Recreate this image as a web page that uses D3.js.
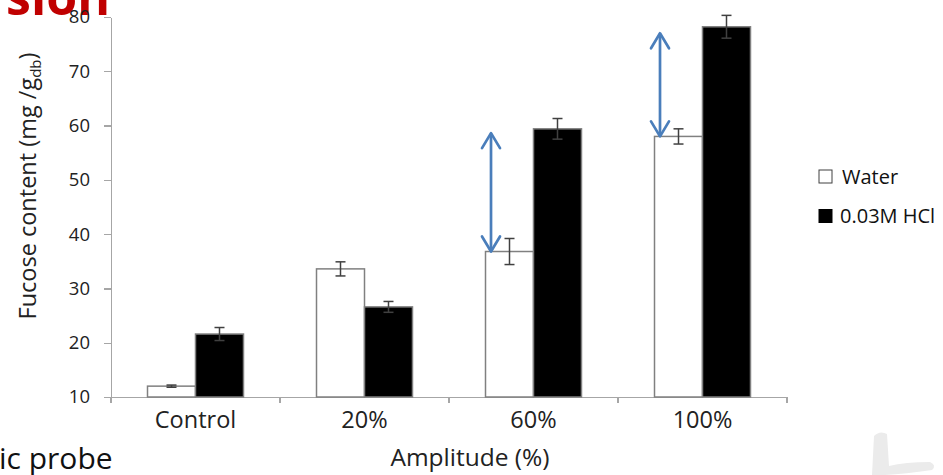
<!DOCTYPE html>
<html>
<head>
<meta charset="utf-8">
<script src="https://cdn.jsdelivr.net/npm/d3@7"></script>
<style>
  body { margin: 0; background: #fff; }
  svg { display: block; font-family: "Open Sans", sans-serif; }
  .axis path, .axis line { stroke: #a6a6a6; stroke-width: 1.3; shape-rendering: crispEdges; }
  .axis text { fill: #222; font-family: "Open Sans", sans-serif; }
</style>
</head>
<body>
<svg class="svg1" width="943" height="475"></svg>
<script>
var categories = ["Control", "20%", "60%", "100%"];
var seriesNames = ["Water", "0.03M HCl"];
var water    = [12.0, 33.6, 36.8, 58.0];
var waterErr = [0.2, 1.3, 2.4, 1.4];
var hcl      = [21.6, 26.6, 59.4, 78.2];
var hclErr   = [1.2, 1.0, 1.9, 2.1];
var yTicks   = [10, 20, 30, 40, 50, 60, 70, 80];
// blue double arrows: [category, from, to]
var arrows = [["60%", 36.8, 58.6], ["100%", 58.0, 77.0]];

var svg = d3.select(".svg1"),
    margin = {top: 17, right: 156, bottom: 78, left: 111},
    width = svg.attr("width") - margin.left - margin.right,
    height = svg.attr("height") - margin.top - margin.bottom;

var x0 = d3.scaleBand().domain(categories).range([0, width]).padding(0),
    x1 = d3.scaleBand().domain(seriesNames)
      .range([x0.bandwidth() * 0.216, x0.bandwidth() * 0.784]).padding(0),
    y = d3.scaleLinear().domain([10, 80]).range([height, 0]);

var data = categories.map(function(c, i) {
  return [
    {cat: c, id: "Water", value: water[i], err: waterErr[i]},
    {cat: c, id: "0.03M HCl", value: hcl[i], err: hclErr[i]}
  ];
});

// slide leftovers around the chart
svg.append("text")
    .attr("x", 110).attr("y", 15)
    .attr("text-anchor", "end")
    .style("font", "bold 50px 'Open Sans', sans-serif")
    .attr("fill", "#c00000")
    .text("sion");

svg.append("text")
    .attr("x", -1).attr("y", 469)
    .style("font-size", "30px")
    .attr("fill", "#111")
    .text("ic probe");

svg.append("path")
    .attr("d", "M872,475 L874,436 Q880,430 887,434 L889,466 Q905,462 930,462 Q937,465 932,470 Q905,474 885,475 Z")
    .attr("fill", "#ebebeb");

var g = svg.append("g").attr("transform", "translate(" + margin.left + "," + margin.top + ")");

g.append("g")
    .attr("class", "axis axis--y")
    .call(d3.axisLeft(y).tickValues(yTicks).tickSize(7).tickPadding(14).tickSizeOuter(0))
    .attr("font-family", null)
    .selectAll("text").style("font-size", "18.5px");

var xAxis = g.append("g")
    .attr("class", "axis axis--x")
    .attr("transform", "translate(0," + height + ")");

xAxis.call(d3.axisBottom(x0).tickSize(0).tickPadding(14))
    .attr("font-family", null)
    .selectAll("text").style("font-size", "23.5px");

xAxis.selectAll(".bound")
    .data(d3.range(categories.length + 1))
    .enter().append("line")
      .attr("class", "bound")
      .attr("x1", function(i) { return i * x0.step(); })
      .attr("x2", function(i) { return i * x0.step(); })
      .attr("y2", 6);

var group = g.selectAll(".grp")
  .data(data)
  .enter().append("g")
    .attr("class", "grp")
    .attr("transform", function(d) { return "translate(" + x0(d[0].cat) + ",0)"; });

group.selectAll("rect")
  .data(function(d) { return d; })
  .enter().append("rect")
    .attr("x", function(d) { return x1(d.id); })
    .attr("y", function(d) { return y(d.value); })
    .attr("width", x1.bandwidth())
    .attr("height", function(d) { return height - y(d.value); })
    .attr("fill", function(d) { return d.id == "Water" ? "#fff" : "#000"; })
    .attr("stroke", "#808080")
    .attr("stroke-width", 1.5);

var eb = group.selectAll(".err")
  .data(function(d) { return d; })
  .enter().append("g")
    .attr("class", "err")
    .attr("stroke", "#404040")
    .attr("stroke-width", 1.5);

eb.append("line")
    .attr("x1", function(d) { return x1(d.id) + x1.bandwidth() / 2; })
    .attr("x2", function(d) { return x1(d.id) + x1.bandwidth() / 2; })
    .attr("y1", function(d) { return y(d.value + d.err); })
    .attr("y2", function(d) { return y(d.value - d.err); });

eb.selectAll(".cap")
  .data(function(d) { return [d.value + d.err, d.value - d.err].map(function(v) { return {id: d.id, v: v}; }); })
  .enter().append("line")
    .attr("class", "cap")
    .attr("x1", function(d) { return x1(d.id) + x1.bandwidth() / 2 - 5; })
    .attr("x2", function(d) { return x1(d.id) + x1.bandwidth() / 2 + 5; })
    .attr("y1", function(d) { return y(d.v); })
    .attr("y2", function(d) { return y(d.v); });

// double headed arrows
var arr = g.selectAll(".arrow")
  .data(arrows)
  .enter().append("g")
    .attr("class", "arrow")
    .attr("fill", "none")
    .attr("stroke", "#4a7ebb")
    .attr("stroke-width", 2.7)
    .attr("stroke-linecap", "round")
    .attr("stroke-linejoin", "round");

function ax(d) { return x0(d[0]) + x1("Water") + 5.5; }

arr.append("line")
    .attr("x1", ax).attr("x2", ax)
    .attr("y1", function(d) { return y(d[2]) + 1; })
    .attr("y2", function(d) { return y(d[1]) - 1; });

arr.append("path")
    .attr("d", function(d) {
      var xx = ax(d), t = y(d[2]), b = y(d[1]);
      return "M" + (xx - 9) + "," + (t + 15) + "L" + xx + "," + t + "L" + (xx + 9) + "," + (t + 15) +
             "M" + (xx - 9) + "," + (b - 15) + "L" + xx + "," + b + "L" + (xx + 9) + "," + (b - 15);
    });

// y title with subscript
svg.append("text")
    .attr("transform", "translate(36,186) rotate(-90)")
    .attr("text-anchor", "middle")
    .style("font-size", "23.5px")
    .attr("fill", "#222")
    .call(function(t) {
      t.append("tspan").text("Fucose content (mg /g");
      t.append("tspan").attr("dy", 5).style("font-size", "15px").text("db");
      t.append("tspan").attr("dy", -5).text(")");
    });

svg.append("text")
    .attr("x", margin.left + width / 2 + 21)
    .attr("y", 466)
    .attr("text-anchor", "middle")
    .style("font-size", "24.5px")
    .attr("fill", "#222")
    .text("Amplitude (%)");

// legend
var legend = svg.append("g").attr("transform", "translate(819,170)");
var li = legend.selectAll(".li")
  .data(seriesNames)
  .enter().append("g")
    .attr("class", "li")
    .attr("transform", function(d, i) { return "translate(0," + (i * 39.5) + ")"; });

li.append("rect")
    .attr("width", 13).attr("height", 13)
    .attr("fill", function(d, i) { return i == 0 ? "#fff" : "#000"; })
    .attr("stroke", function(d, i) { return i == 0 ? "#404040" : "#000"; })
    .attr("stroke-width", 1);

li.append("text")
    .attr("x", function(d, i) { return i == 0 ? 23 : 21; })
    .attr("y", 13.5)
    .style("font-size", "20px")
    .attr("fill", "#111")
    .text(function(d) { return d; });
</script>
</body>
</html>
